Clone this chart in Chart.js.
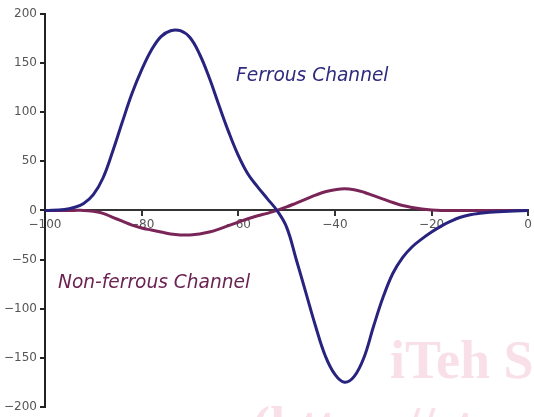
<!DOCTYPE html>
<html>
<head>
<meta charset="utf-8">
<script src="https://cdn.jsdelivr.net/npm/chart.js@4.4.0/dist/chart.umd.min.js"></script>
<style>
  html, body { margin: 0; padding: 0; background: #fff; }
  #wrap { width: 534px; height: 417px; }
</style>
</head>
<body>
<div id="wrap"><canvas id="chart"></canvas></div>
<script>
// Data
const xValues = [-100, -96, -94, -92, -90, -88, -86, -84, -82, -80, -78, -76, -74, -72, -70, -68, -66, -64, -62, -60,
  -58, -56, -54, -52, -50, -48, -46, -44, -42, -40, -38, -36, -34, -32, -30, -28, -26, -24, -22, -20,
  -18, -16, -14, -12, -10, -8, -4, 0];
const ferrous = [0, 1, 3, 7, 16, 33, 60, 90, 119, 143, 163, 177, 183, 183, 176, 159, 135, 107, 80, 56,
  37, 24, 12, 0, -17, -50, -84, -118, -148, -167, -175, -169, -150, -118, -88, -64, -48, -37, -29, -22,
  -16, -11, -7, -4.5, -3, -2, -0.8, 0];
const nonFerrous = [0, 0, 0, 0, -1, -3, -7, -11, -15, -18, -20, -22, -24, -25, -25, -24, -22, -19, -15.5, -12,
  -8.5, -5.5, -3, 0, 3.5, 7.5, 11.5, 15.5, 19, 21, 22, 21, 18.5, 15, 11.5, 8, 5, 3, 1.5, 0.5,
  0, 0, 0, 0, 0, 0, 0, 0];
const yTicks = [-200, -150, -100, -50, 0, 50, 100, 150, 200];
const xTicks = [-100, -80, -60, -40, -20, 0];

const minus = v => String(v).replace("-", "\u2212");

// Labels on the plot and the watermark
const textPlugin = {
  id: "labels",
  afterDraw(chart) {
    const ctx = chart.ctx;
    ctx.save();
    ctx.textBaseline = "middle";
    ctx.font = "oblique 18.6px 'DejaVu Sans'";
    ctx.fillStyle = "#2e2b7e";
    ctx.fillText("Ferrous Channel", 236, 76);
    ctx.fillStyle = "#6b2352";
    ctx.fillText("Non-ferrous Channel", 58, 283);
    ctx.textBaseline = "alphabetic";
    ctx.font = "bold 54px 'Liberation Serif'";
    ctx.fillStyle = "rgba(240, 185, 205, 0.45)";
    ctx.fillText("iTeh Standards", 390, 378);
    ctx.fillText("(https://standards", 252, 444);
    ctx.restore();
  }
};

new Chart(document.getElementById("chart"), {
  type: "line",
  data: {
    datasets: [{
      label: "Ferrous Channel",
      data: xValues.map((x, i) => ({ x: x, y: ferrous[i] })),
      borderColor: "#27237f",
      borderWidth: 3,
      pointRadius: 0,
      tension: 0.4
    }, {
      label: "Non-ferrous Channel",
      data: xValues.map((x, i) => ({ x: x, y: nonFerrous[i] })),
      borderColor: "#7a2558",
      borderWidth: 3,
      pointRadius: 0,
      tension: 0.4
    }]
  },
  options: {
    responsive: true,
    maintainAspectRatio: false,
    animation: false,
    layout: { padding: { top: 14, bottom: 7, right: 4, left: 0 } },
    plugins: { legend: { display: false }, tooltip: { enabled: false } },
    scales: {
      x: {
        type: "linear",
        position: { y: 0 },
        min: -100,
        max: 0,
        afterBuildTicks: s => { s.ticks = xTicks.map(v => ({ value: v })); },
        ticks: { color: "#555", font: { family: "'DejaVu Sans'", size: 12 }, padding: 2, callback: minus, maxRotation: 0 },
        grid: { drawOnChartArea: false, drawTicks: true, tickLength: 5, color: "#333", lineWidth: 2 },
        border: { display: true, color: "#333", width: 2 }
      },
      y: {
        min: -200,
        max: 200,
        afterBuildTicks: s => { s.ticks = yTicks.map(v => ({ value: v })); },
        afterFit: s => { s.width = 45; },
        ticks: { color: "#555", font: { family: "'DejaVu Sans'", size: 12 }, padding: 3, callback: minus },
        grid: { drawOnChartArea: false, drawTicks: true, tickLength: 5, color: "#222", lineWidth: 2 },
        border: { display: true, color: "#222", width: 2 }
      }
    }
  },
  plugins: [textPlugin]
});
</script>
</body>
</html>
